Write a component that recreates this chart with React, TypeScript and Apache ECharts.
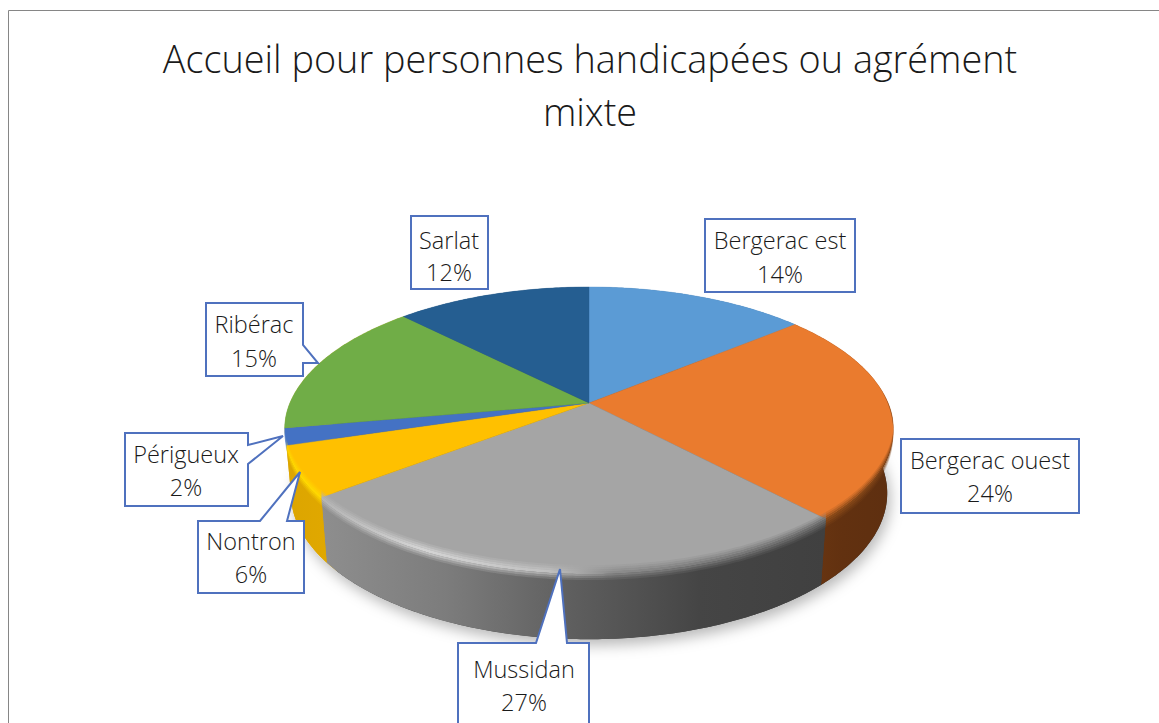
import React, { useEffect, useRef } from "react";
import * as echarts from "echarts";

const categories = ["Bergerac est", "Bergerac ouest", "Mussidan", "Nontron", "Périgueux", "Ribérac", "Sarlat"];
const shares = [14, 24, 26.6, 5.7, 1.9, 15.4, 12.4];
const titleText = "Accueil pour personnes handicapées ou agrément\nmixte";

const topColors = ["#5B9BD5", "#EA7B2E", "#A5A5A5", "#FFC000", "#4472C4", "#70AD47", "#255E91"];
const wallStops: [number, string][][] = [
  [[0, "#3a6d9c"], [1, "#3a6d9c"]],
  [[0, "#6e3812"], [0.5, "#623110"], [1, "#5e2f10"]],
  [[0, "#8e8e8e"], [0.25, "#7c7c7c"], [0.5, "#5e5e5e"], [0.75, "#454545"], [1, "#404040"]],
  [[0, "#dca500"], [1, "#e0a800"]],
  [[0, "#dca500"], [1, "#dca500"]],
  [[0, "#dca500"], [1, "#dca500"]],
  [[0, "#1d4a73"], [1, "#1d4a73"]],
];
const rimStops: [number, string][][] = [
  [[0, "#5B9BD5"], [1, "#5B9BD5"]],
  [[0, "#8a4a18"], [1, "#7a4016"]],
  [[0, "#b4b4b4"], [0.2, "#d4d4d4"], [0.45, "#c0c0c0"], [0.58, "#8c8c8c"], [1, "#6a6a6a"]],
  [[0, "#ffd800"], [1, "#ffd800"]],
  [[0, "#5b8ad8"], [1, "#5b8ad8"]],
  [[0, "#70AD47"], [1, "#70AD47"]],
  [[0, "#255E91"], [1, "#255E91"]],
];
const baseStops: [number, string][] = [[0, "#dca500"], [0.07, "#dca500"], [0.08, "#4a4a4a"], [1, "#3a3a3a"]];

// perspective of the two discs, in pixels
const apexX = 589;
const topDisc = { y0: 403, ax: 299, by: 137.6, k: 0.186 };
const baseDisc = { y0: 466, ax: 293, by: 141, k: 0.186 };

const calloutFont = "'Open Sans', sans-serif";
const callouts = [
  { cx: 780, cy: 257, lh: 34, pts: [[705, 219], [855, 219], [855, 292], [705, 292]] },
  { cx: 990, cy: 476, lh: 33, pts: [[901, 439], [1079, 439], [1079, 513], [901, 513]] },
  { cx: 524, cy: 685, lh: 33, pts: [[458, 643], [536, 643], [560, 569], [567, 643], [589, 643], [589, 740], [458, 740]] },
  { cx: 251, cy: 557, lh: 33, pts: [[198, 521], [260, 521], [300, 472], [287, 521], [304, 521], [304, 593], [198, 593]] },
  { cx: 186, cy: 470, lh: 33, pts: [[125, 433], [248, 433], [248, 445], [283, 436], [248, 464], [248, 506], [125, 506]] },
  { cx: 254, cy: 341, lh: 34, pts: [[206, 303], [303, 303], [303, 345], [318, 363], [303, 363], [303, 376], [206, 376]] },
  { cx: 449, cy: 256, lh: 32, pts: [[411, 216], [488, 216], [488, 289], [411, 289]] },
];

const total = shares.reduce((s, v) => s + v, 0);
const bounds = shares.map((_, i) =>
  shares.slice(0, i).reduce((s, v) => s + v, 0) / total * Math.PI * 2
);
const sweepEnd = (i: number) => (i + 1 < shares.length ? bounds[i + 1] : Math.PI * 2);

function project(d: typeof topDisc, a: number, r = 1): [number, number] {
  const x = Math.sin(a) * r;
  const y = -Math.cos(a) * r;
  const w = 1 - d.k * y;
  return [apexX + (d.ax * x) / w, d.y0 + (d.by * y) / w];
}
function arcAngles(a0: number, a1: number) {
  const n = Math.max(2, Math.ceil((a1 - a0) / 0.012));
  const out: number[] = [];
  for (let i = 0; i <= n; i++) out.push(a0 + ((a1 - a0) * i) / n);
  return out;
}
function grad(stops: [number, string][], x0: number, x1: number) {
  return new echarts.graphic.LinearGradient(
    x0, 0, x1, 0,
    stops.map(([offset, color]) => ({ offset, color })),
    true
  );
}
function rimFactor(a: number) {
  const t = Math.min(1, Math.max(0, (-Math.cos(a) + 0.15) / 0.6));
  return t * t * (3 - 2 * t);
}

const rimLayers = [
  { d0: -7, d1: -5, o: 0.2 },
  { d0: -5, d1: -3, o: 0.45 },
  { d0: -3, d1: -1, o: 0.75 },
  { d0: -1, d1: 2, o: 1 },
  { d0: 2, d1: 4, o: 0.75 },
  { d0: 4, d1: 6, o: 0.45 },
  { d0: 6, d1: 8, o: 0.2 },
];

function renderWall(params: any) {
  const i = params.dataIndex;
  const as = arcAngles(bounds[i], sweepEnd(i));
  const up = as.map((a) => project(topDisc, a));
  const low = as.map((a) => project(baseDisc, a)).reverse();
  const pts = up.concat(low);
  const xs = pts.map((p) => p[0]);
  return {
    type: "polygon",
    shape: { points: pts },
    style: { fill: grad(wallStops[i], Math.min(...xs), Math.max(...xs)), stroke: "none" },
  };
}
function renderShadow(params: any) {
  if (params.dataIndex !== 0) return { type: "group", children: [] };
  const pts = arcAngles(0, Math.PI * 2).map((a) => project(baseDisc, a));
  const xs = pts.map((p) => p[0]);
  return {
    type: "polygon",
    shape: { points: pts },
    style: {
      fill: grad(baseStops, Math.min(...xs), Math.max(...xs)),
      shadowBlur: 14,
      shadowColor: "rgba(0,0,0,0.28)",
      shadowOffsetX: 3,
      shadowOffsetY: 6,
    },
  };
}
function renderTop(params: any) {
  const i = params.dataIndex;
  const pts = arcAngles(bounds[i], sweepEnd(i)).map((a) => project(topDisc, a));
  pts.push([apexX, topDisc.y0]);
  return {
    type: "polygon",
    shape: { points: pts },
    style: { fill: topColors[i], stroke: topColors[i], lineWidth: 0.4 },
  };
}
function renderRim(params: any) {
  const i = params.dataIndex;
  const as = arcAngles(bounds[i], sweepEnd(i)).filter((a) => rimFactor(a) > 0);
  if (as.length < 2) return { type: "group", children: [] };
  const base = as.map((a) => project(topDisc, a));
  const xs = base.map((p) => p[0]);
  const fill = grad(rimStops[i], Math.min(...xs), Math.max(...xs));
  const children = rimLayers.map((l) => {
    const a1 = as.map((a, j) => [base[j][0], base[j][1] + l.d0 * rimFactor(a)]);
    const a2 = as.map((a, j) => [base[j][0], base[j][1] + l.d1 * rimFactor(a)]).reverse();
    return {
      type: "polygon",
      shape: { points: a1.concat(a2) },
      style: { fill, opacity: l.o, stroke: "none" },
    };
  });
  return { type: "group", children };
}
function renderCallout(params: any) {
  const i = params.dataIndex;
  const c = callouts[i];
  return {
    type: "group",
    children: [
      {
        type: "polygon",
        shape: { points: c.pts },
        style: { fill: "#ffffff", stroke: "#4F71BE", lineWidth: 2 },
      },
      {
        type: "text",
        style: {
          text: `${categories[i]}\n${Math.round(shares[i])}%`,
          x: c.cx,
          y: c.cy,
          align: "center",
          verticalAlign: "middle",
          fontFamily: calloutFont,
          fontWeight: 300,
          fontSize: 23.5,
          lineHeight: c.lh,
          fill: "#1a1a1a",
        },
      },
    ],
  };
}

export default function App() {
  const ref = useRef<HTMLDivElement>(null);
  useEffect(() => {
    const chart = echarts.init(ref.current!, undefined, { renderer: "svg" });
    const custom = (name: string, renderItem: any, z: number) => ({
      type: "custom",
      name,
      coordinateSystem: "none",
      silent: true,
      z,
      data: shares,
      renderItem,
    });
    chart.setOption({
      animation: false,
      backgroundColor: "#ffffff",
      title: {
        text: titleText,
        left: 585,
        top: 27,
        textAlign: "center",
        textStyle: {
          fontFamily: calloutFont,
          fontWeight: 300,
          fontSize: 37.8,
          lineHeight: 53,
          color: "#1a1a1a",
        },
      },
      graphic: [
        { type: "line", silent: true, shape: { x1: 8.5, y1: 10.5, x2: 1159, y2: 10.5 }, style: { stroke: "#868686", lineWidth: 1 } },
        { type: "line", silent: true, shape: { x1: 8.5, y1: 10.5, x2: 8.5, y2: 723 }, style: { stroke: "#868686", lineWidth: 1 } },
      ],
      series: [
        custom("shadow", renderShadow, 1),
        custom("wall", renderWall, 2),
        custom("top", renderTop, 3),
        custom("rim", renderRim, 4),
        custom("callouts", renderCallout, 5),
      ],
    });
    return () => chart.dispose();
  }, []);
  return <div ref={ref} style={{ position: "fixed", left: 0, top: 0, width: 1159, height: 723 }} />;
}
